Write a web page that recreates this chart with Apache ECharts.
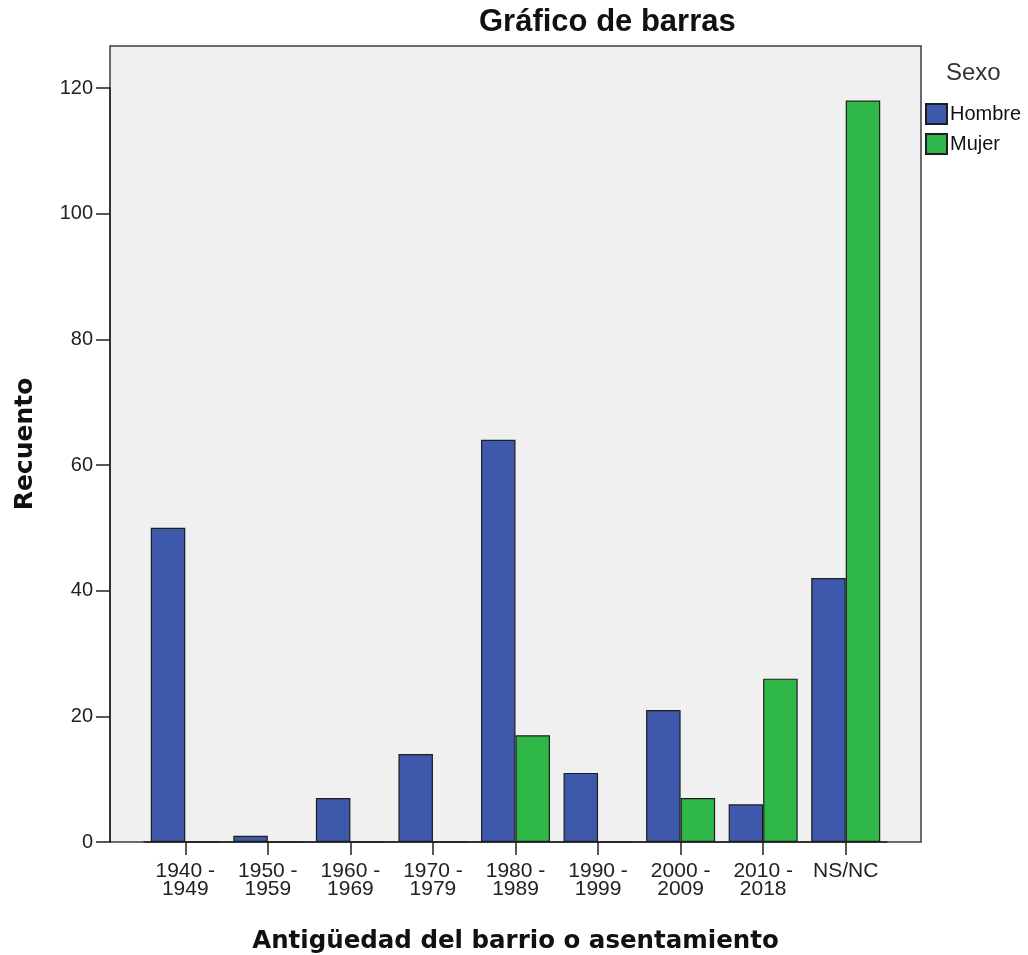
<!DOCTYPE html>
<html>
    <head>
        <meta charset="utf-8">
        <title>Gráfico de barras</title>
        <script src="https://cdn.jsdelivr.net/npm/echarts@6/dist/echarts.min.js"></script>
        <style>
            html, body { margin: 0; padding: 0; background: #fff; }
            #chart1 { width: 1028px; height: 955px; }
        </style>
    </head>
    <body>
        <div id="chart1"></div>
    </body>
    <script type="text/javascript">
        // datos
        var categorias = ['1940 -\n1949', '1950 -\n1959', '1960 -\n1969', '1970 -\n1979', '1980 -\n1989',
            '1990 -\n1999', '2000 -\n2009', '2010 -\n2018', 'NS/NC'];
        var hombre = [50, 1, 7, 14, 64, 11, 21, 6, 42];
        var mujer = [0, 0, 0, 0, 17, 0, 7, 26, 118];
        var seriesNames = ['Hombre', 'Mujer'];

        var borde = {borderColor: '#1e1e1e', borderWidth: 1.2};

        var myChart = echarts.init(document.getElementById('chart1'));
        myChart.setOption({
            animation: false,
            textStyle: {fontFamily: 'Liberation Sans, Arial, sans-serif'},
            title: [{
                text: 'Gráfico de barras',
                left: 479, top: 7, padding: 0,
                textStyle: {fontSize: 31, fontWeight: 'bold', color: '#111'}
            }, {
                text: 'Sexo',
                left: 946, top: 61, padding: 0,
                textStyle: {fontSize: 24, fontWeight: 'normal', color: '#333'}
            }],
            legend: {
                orient: 'vertical',
                left: 925, top: 103, padding: 0,
                itemWidth: 21, itemHeight: 20, itemGap: 8,
                icon: 'rect',
                data: seriesNames,
                textStyle: {fontSize: 20, color: '#111', padding: [0, 0, 0, -2]}
            },
            grid: [
                // marco del gráfico (fondo gris)
                {left: 110, right: 107, top: 46, bottom: 113, show: true, outerBoundsMode: 'none',
                    backgroundColor: '#f0f0f0', borderColor: '#3c3c3c', borderWidth: 1.5},
                // zona de barras
                {left: 144, right: 141, top: 88, bottom: 113, outerBoundsMode: 'none', containLabel: false}
            ],
            xAxis: {
                gridIndex: 1,
                type: 'category',
                data: categorias,
                name: 'Antigüedad del barrio o asentamiento',
                nameLocation: 'middle',
                nameGap: 87,
                nameTextStyle: {fontFamily: 'DejaVu Sans', fontSize: 24.5, fontWeight: 'bold', color: '#111'},
                axisLine: {lineStyle: {color: '#222', width: 1.5}},
                axisTick: {show: true, alignWithLabel: true, interval: 0, length: 13, lineStyle: {color: '#222', width: 1.5}},
                axisLabel: {interval: 0, fontSize: 21, lineHeight: 18, color: '#222', margin: 20}
            },
            yAxis: {
                gridIndex: 1,
                type: 'value',
                min: 0, max: 120, interval: 20,
                offset: 34,
                name: 'Recuento',
                nameLocation: 'middle',
                nameGap: 72,
                nameTextStyle: {fontFamily: 'DejaVu Sans', fontSize: 25, fontWeight: 'bold', color: '#111',
                    padding: [0, 0, 0, 42]},
                axisLine: {show: true, lineStyle: {color: '#222', width: 1.5}},
                axisTick: {show: true, length: 14, lineStyle: {color: '#222', width: 1.5}},
                axisLabel: {fontSize: 20, color: '#222', margin: 17},
                splitLine: {show: false}
            },
            series: [{
                name: seriesNames[0],
                type: 'bar',
                xAxisIndex: 0, yAxisIndex: 0,
                data: hombre,
                barWidth: 34.5,
                barGap: '0%',
                itemStyle: Object.assign({color: '#3e58ab'}, borde)
            }, {
                name: seriesNames[1],
                type: 'bar',
                xAxisIndex: 0, yAxisIndex: 0,
                data: mujer,
                barWidth: 34.5,
                barGap: '0%',
                itemStyle: Object.assign({color: '#2fb847'}, borde)
            }]
        });
    </script>
</html>
